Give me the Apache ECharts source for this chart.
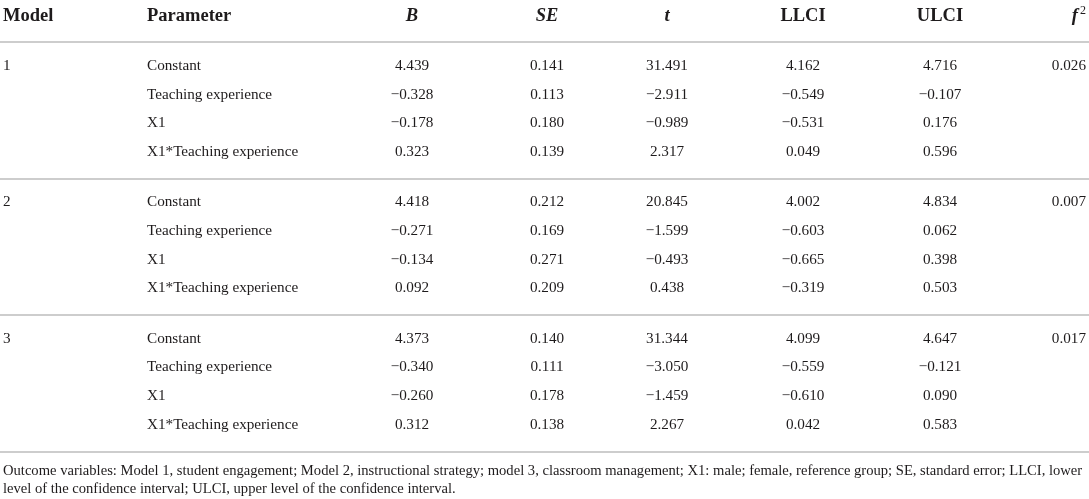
<!DOCTYPE html>
<html>
<head>
<meta charset="utf-8">
<script src="https://cdn.jsdelivr.net/npm/echarts@6/dist/echarts.min.js"></script>
<style>
  html, body { margin: 0; padding: 0; background: #fff; }
  #main { width: 1089px; height: 499px; }
</style>
</head>
<body>
<div id="main"></div>
<script>
// table content
var headers = ['Model', 'Parameter', 'B', 'SE', 't', 'LLCI', 'ULCI', 'f2'];
var models = ['1', '2', '3'];
var parameters = ['Constant', 'Teaching experience', 'X1', 'X1*Teaching experience'];
var bValues = [
  [4.439, -0.328, -0.178, 0.323],
  [4.418, -0.271, -0.134, 0.092],
  [4.373, -0.340, -0.260, 0.312]
];
var seValues = [
  [0.141, 0.113, 0.180, 0.139],
  [0.212, 0.169, 0.271, 0.209],
  [0.140, 0.111, 0.178, 0.138]
];
var tValues = [
  [31.491, -2.911, -0.989, 2.317],
  [20.845, -1.599, -0.493, 0.438],
  [31.344, -3.050, -1.459, 2.267]
];
var llciValues = [
  [4.162, -0.549, -0.531, 0.049],
  [4.002, -0.603, -0.665, -0.319],
  [4.099, -0.559, -0.610, 0.042]
];
var ulciValues = [
  [4.716, -0.107, 0.176, 0.596],
  [4.834, 0.062, 0.398, 0.503],
  [4.647, -0.121, 0.090, 0.583]
];
var f2Values = [0.026, 0.007, 0.017];
var footnote = [
  'Outcome variables: Model 1, student engagement; Model 2, instructional strategy; model 3, classroom management; X1: male; female, reference group; SE, standard error; LLCI, lower',
  'level of the confidence interval; ULCI, upper level of the confidence interval.'
];

// layout (pixels on a hidden 1089 x 499 axis)
var colX = [3, 147, 412, 547, 667, 803, 940, 1086];
var colAlign = ['left', 'left', 'center', 'center', 'center', 'center', 'center', 'right'];
var headerY = 16;
var firstRowY = 66;
var rowStep = 28.7;
var groupStep = 136.3;
var ruleY = [42, 178.5, 315, 451.5];

var FONT = '"Liberation Serif", "DejaVu Serif", serif';
var INK = '#1e1b1c';

function fmt(v) {
  var s = v.toFixed(3);
  return v < 0 ? '\u2212' + s.slice(1) : s;
}
function rowY(g, r) { return firstRowY + g * groupStep + r * rowStep; }

var columnData = [[], [], [], [], [], [], [], []];
models.forEach(function (m, g) {
  columnData[0].push({ value: [colX[0], rowY(g, 0)], text: m });
  columnData[7].push({ value: [colX[7], rowY(g, 0)], text: fmt(f2Values[g]) });
  parameters.forEach(function (p, r) {
    var y = rowY(g, r);
    columnData[1].push({ value: [colX[1], y], text: p });
    columnData[2].push({ value: [colX[2], y], text: fmt(bValues[g][r]) });
    columnData[3].push({ value: [colX[3], y], text: fmt(seValues[g][r]) });
    columnData[4].push({ value: [colX[4], y], text: fmt(tValues[g][r]) });
    columnData[5].push({ value: [colX[5], y], text: fmt(llciValues[g][r]) });
    columnData[6].push({ value: [colX[6], y], text: fmt(ulciValues[g][r]) });
  });
});

var headerStyle = ['plain', 'plain', 'ital', 'ital', 'ital', 'plain', 'plain', 'f2'];
var headerData = headers.map(function (h, i) {
  var txt;
  if (headerStyle[i] === 'ital') txt = '{i|' + h + '}';
  else if (headerStyle[i] === 'f2') txt = '{fi|f}{sup|2}';
  else txt = '{b|' + h + '}';
  return {
    value: [colX[i], headerY],
    text: txt,
    label: { align: colAlign[i] }
  };
});

var series = columnData.map(function (d, i) {
  return {
    type: 'scatter',
    symbolSize: 0,
    silent: true,
    itemStyle: { opacity: 1 },
    data: d,
    label: {
      show: true,
      position: 'inside',
      align: colAlign[i],
      verticalAlign: 'middle',
      fontFamily: FONT,
      fontSize: 15.2,
      color: INK,
      opacity: 1,
      formatter: function (p) { return p.data.text; }
    }
  };
});

series.push({
  type: 'scatter',
  symbolSize: 0,
  silent: true,
  itemStyle: { opacity: 1 },
  data: headerData,
  label: {
    show: true,
    position: 'inside',
    verticalAlign: 'middle',
    color: INK,
    opacity: 1,
    formatter: function (p) { return p.data.text; },
    rich: {
      b: { fontFamily: FONT, fontSize: 18.5, fontWeight: 'bold', color: INK, lineHeight: 22 },
      i: { fontFamily: FONT, fontSize: 18.5, fontWeight: 'bold', fontStyle: 'italic', color: INK, lineHeight: 22 },
      fi: { fontFamily: FONT, fontSize: 18.5, fontWeight: 'bold', fontStyle: 'italic', color: INK, lineHeight: 22 },
      sup: { fontFamily: FONT, fontSize: 12, color: INK, verticalAlign: 'top', lineHeight: 12, padding: [0, 0, 8, 2] }
    }
  },
  markLine: {
    silent: true,
    symbol: 'none',
    label: { show: false },
    lineStyle: { color: '#cdcdcd', width: 2, type: 'solid', opacity: 1 },
    data: ruleY.map(function (y) { return { yAxis: y }; })
  }
});

var chart = echarts.init(document.getElementById('main'));
chart.setOption({
  animation: false,
  backgroundColor: '#ffffff',
  grid: { left: 0, right: 0, top: 0, bottom: 0 },
  xAxis: { type: 'value', min: 0, max: 1089, show: false },
  yAxis: { type: 'value', min: 0, max: 499, inverse: true, show: false },
  graphic: footnote.map(function (line, i) {
    return {
      type: 'text',
      x: 3,
      y: 471 + i * 18,
      silent: true,
      style: { text: line, font: '14.6px ' + FONT, fill: INK, verticalAlign: 'middle' }
    };
  }),
  series: series
});
</script>
</body>
</html>
